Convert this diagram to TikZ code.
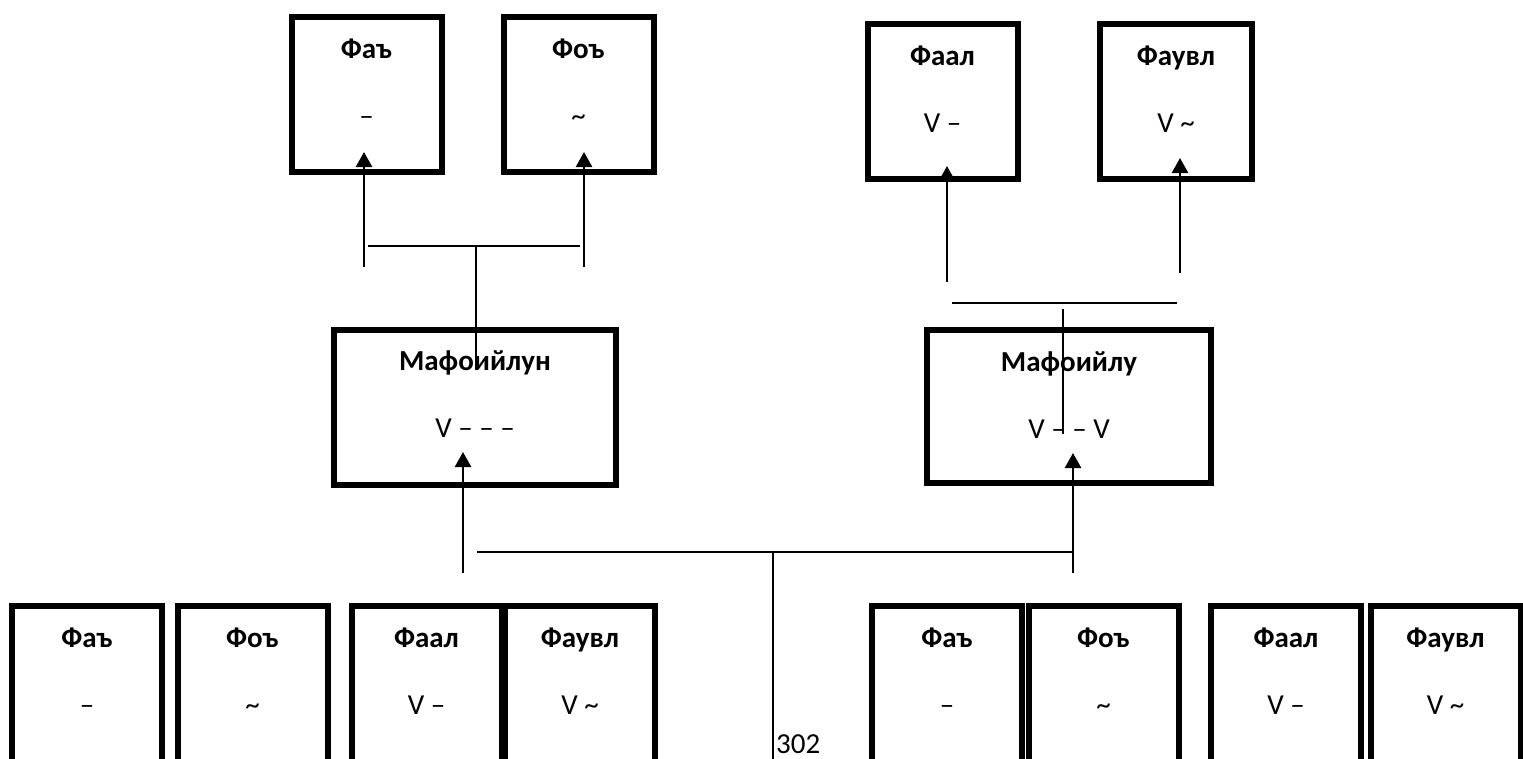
\documentclass[tikz,border=0pt]{standalone}
\usepackage{fontspec}
\setmainfont{Carlito}
\usetikzlibrary{arrows.meta}

\begin{document}
\begin{tikzpicture}[x=1pt,y=-1pt,
    foot/.style={draw,line width=6pt,minimum width=150pt,minimum height=155pt,inner sep=0pt,outer sep=0pt},
    ttl/.style={font=\fontsize{29}{29}\selectfont\bfseries,inner sep=0pt,anchor=base},
    sym/.style={font=\fontsize{29}{29}\selectfont,inner sep=0pt,anchor=base},
    up/.style={line width=2.5pt,-{Triangle[width=16pt,length=15pt]}},
    bar/.style={line width=2pt},
    stem/.style={line width=1.5pt}]
  \clip (0,0) rectangle (1523,758);
  % feet above
  \node[foot] (ufa) at (366.5,94.5) {};
  \node[foot] (ufo) at (578.5,94.5) {};
  \node[foot] (ufaal) at (942.5,101.5) {};
  \node[foot,minimum width=152pt] (ufauvl) at (1176,101.5) {};
  % the two metres
  \node[foot,minimum width=282pt] (mafl) at (475,407) {};
  \node[foot,minimum width=284pt,minimum height=153pt] (mafr) at (1069,406.5) {};
  % feet below
  \foreach \n/\x in {1/87,2/252.5,3/426.5,4/580,5/947,6/1103.5,7/1286,8/1445.5}
    \node[foot,minimum height=200pt,anchor=north] (low\n) at (\x,606) {};
  % texts
  \foreach \b/\t/\s in {ufa/Фаъ/–,ufo/Фоъ/\textasciitilde,ufaal/Фаал/V –,ufauvl/Фаувл/V \textasciitilde,
      mafl/Мафоийлун/V – – –,mafr/Мафоийлу/V – – V,
      low1/Фаъ/–,low2/Фоъ/\textasciitilde,low3/Фаал/V –,low4/Фаувл/V \textasciitilde,
      low5/Фаъ/–,low6/Фоъ/\textasciitilde,low7/Фаал/V –,low8/Фаувл/V \textasciitilde}
    \path (\b.north) ++(0,41) node[ttl] (\b-t) {\t} ++(0,67) node[sym] (\b-s) {\s};
  \node[sym,anchor=base west] (page) at (776,753) {302};
  % connectors
  \coordinate (ufa-in) at (364,152);
  \coordinate (ufo-in) at (584,152);
  \coordinate (ufaal-in) at (947,166);
  \coordinate (ufauvl-in) at (1180,158);
  \coordinate (mafl-in) at (463,452);
  \coordinate (mafr-in) at (1073,453);
  \coordinate (ufa-out) at (364,267);
  \coordinate (ufo-out) at (584,267);
  \coordinate (ufaal-out) at (947,282);
  \coordinate (ufauvl-out) at (1180,273);
  \coordinate (mafl-out) at (463,573);
  \coordinate (mafr-out) at (1073,573);
  \coordinate (bar1l) at (368,246);
  \coordinate (bar1r) at (580,246);
  \coordinate (bar1m) at (476,246);
  \coordinate (stem1) at (476,370);
  \coordinate (bar2l) at (952,303);
  \coordinate (bar2r) at (1177,303);
  \coordinate (bar2m) at (1063,309);
  \coordinate (stem2) at (1063,434);
  \coordinate (bar3l) at (477,552);
  \coordinate (bar3r) at (1073,552);
  \coordinate (bar3m) at (773,552);
  \coordinate (stem3) at (773,760);
  \begin{scope}[up]
    \draw (ufa-out) to (ufa-in);
    \draw (ufo-out) to (ufo-in);
    \draw (ufaal-out) to (ufaal-in);
    \draw (ufauvl-out) to (ufauvl-in);
    \draw (mafl-out) to (mafl-in);
    \draw (mafr-out) to (mafr-in);
  \end{scope}
  \draw[bar] (bar1l) to (bar1r);
  \draw[bar] (bar2l) to (bar2r);
  \draw[bar] (bar3l) to (bar3r);
  \draw[stem] (bar1m) to (stem1);
  \draw[stem] (bar2m) to (stem2);
  \draw[stem] (bar3m) to (stem3);
\end{tikzpicture}
\end{document}
